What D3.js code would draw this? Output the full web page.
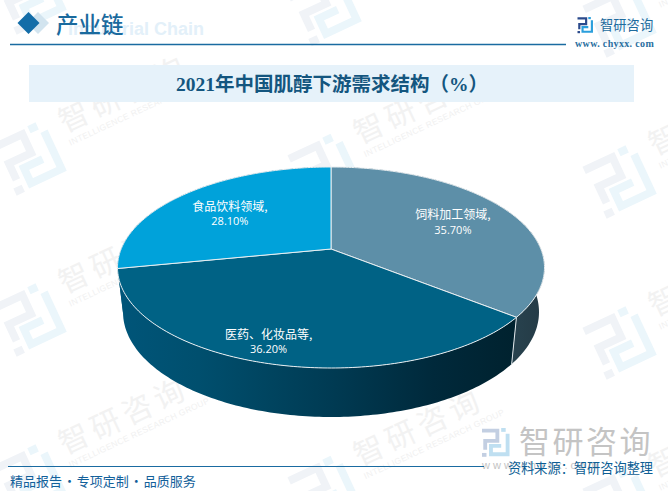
<!DOCTYPE html>
<html><head><meta charset="utf-8">
<script src="https://cdnjs.cloudflare.com/ajax/libs/d3/7.8.5/d3.min.js"></script>
<style>html,body{margin:0;padding:0;background:#fff}svg{display:block}text{font-family:"Noto Sans CJK SC","Noto Sans",sans-serif}</style>
</head><body><svg id="c" width="668" height="491"></svg>
<script>
const categories = ["饲料加工领域,", "医药、化妆品等,", "食品饮料领域,"];
const values = [35.7, 36.2, 28.1];
const valueLabels = ["35.70%", "36.20%", "28.10%"];
const topColors = ["#5d8fa8", "#006285", "#00a2da"];
const sideStops = [
  [["#28434f", 0], ["#243a45", 1]],
  [["#005579", 0], ["#004f6e", .2], ["#003a52", .55], ["#00293b", .8], ["#00222f", 1]],
  [["#005579", 0], ["#005579", 1]]
];
const labelNudges = [[0, 0], [-24, 19], [1, 3]];
const chartTitle = "2021年中国肌醇下游需求结构（%）";
const sectionTitle = "产业链";
const sectionEnglish = "Industrial Chain";
const brandName = "智研咨询";
const brandSite = "www. chyxx. com";
const brandFaint = "w w w . c h y x x . c o m";
const watermarkEnglish = "INTELLIGENCE RESEARCH GROUP";
const footerLeft = "精品报告 · 专项定制 · 品质服务";
const footerRight = "资料来源：智研咨询整理";

const svg = d3.select("#c");
const defs = svg.append("defs");
const DARK = "#1a6ba1";

// ---------- logo mark ----------
function logo(g, c1, c2, sw) {
  g.append("path").attr("d", "M0,4H24V20H5V34").attr("fill", "none").attr("stroke", c1).attr("stroke-width", sw);
  g.append("rect").attr("x", 0).attr("y", 39).attr("width", 7).attr("height", 6).attr("fill", c1);
  g.append("rect").attr("x", 30).attr("y", 0).attr("width", 7).attr("height", 6).attr("fill", c2);
  g.append("path").attr("d", "M40,9V41H14V28H30").attr("fill", "none").attr("stroke", c2).attr("stroke-width", sw);
}

// ---------- watermarks ----------
const wmRows = d3.range(4), wmCols = d3.range(3);
const wm = svg.append("g");
d3.cross(wmRows, wmCols).forEach(([r, c]) => {
  const lx = 30 + 295 * c;
  const ly = -3 + 161 * r + 11.5 * c;
  const g = wm.append("g").attr("transform", `translate(${lx},${ly}) rotate(-25)`);
  const lg = g.append("g").attr("transform", "translate(-28,-30) scale(1.3)");
  logo(lg, "#f0f3f7", "#ebf6fb", 6);
  g.append("text").attr("x", 42).attr("y", -8).attr("font-size", 30).attr("letter-spacing", 5).attr("fill", "#f2f2f2").text(brandName);
  g.append("text").attr("x", 42).attr("y", 6).attr("font-size", 8.5).attr("letter-spacing", .35).attr("fill", "#f1f1f1").style("font-family", "Liberation Sans").text(watermarkEnglish);
});

// ---------- header ----------
const diamond = (cx, cy, r) => d3.line()([[cx - r, cy], [cx, cy - r], [cx + r, cy], [cx, cy + r]]) + "Z";
svg.append("path").attr("d", diamond(38, 23, 11)).attr("fill", "#d2e4ef");
svg.append("path").attr("d", diamond(28.5, 23, 11)).attr("fill", "#136da8");
svg.append("text").attr("x", 68).attr("y", 35).attr("font-size", 18).attr("font-weight", 700).attr("fill", "#e3f0f9").style("font-family", "Liberation Sans").text(sectionEnglish);
svg.append("text").attr("x", 56).attr("y", 33).attr("font-size", 22.5).attr("font-weight", 500).attr("fill", "#1a6a9e").text(sectionTitle);
svg.append("line").attr("x1", 10).attr("x2", 566).attr("y1", 44.5).attr("y2", 44.5).attr("stroke", DARK).attr("stroke-width", 1.3);
logo(svg.append("g").attr("transform", "translate(577.5,17) scale(.36)"), "#2b4a8c", "#2b9fdc", 6);
svg.append("text").attr("x", 600).attr("y", 30).attr("font-size", 13.3).attr("fill", "#1f6c9e").text(brandName);
svg.append("text").attr("x", 575).attr("y", 47).attr("font-size", 10).attr("font-weight", 700).attr("letter-spacing", .35).attr("fill", "#2a6f9f").style("font-family", "Liberation Serif").text(brandSite);

// ---------- title band ----------
svg.append("rect").attr("x", 29).attr("y", 65).attr("width", 605).attr("height", 37).attr("fill", "#e6f2fa");
svg.append("text").attr("x", 332).attr("y", 91).attr("text-anchor", "middle").attr("font-size", 19.5).attr("font-weight", 700).attr("fill", "#14567f")
  .style("font-family", '"Liberation Serif","Noto Sans CJK SC"').text(chartTitle);

// ---------- bottom-right brand + footer ----------
logo(svg.append("g").attr("transform", "translate(482,428) scale(.64)"), "#c3cfe2", "#bfdff1", 6);
svg.append("text").attr("x", 519).attr("y", 453).attr("font-size", 31).attr("letter-spacing", 2.5).attr("fill", "#c4c4c4").text(brandName);
svg.append("text").attr("x", 482).attr("y", 469).attr("font-size", 11).attr("fill", "#c4c4c4").style("font-family", "Liberation Sans").text(brandFaint);
svg.append("line").attr("x1", 8).attr("x2", 484).attr("y1", 466.5).attr("y2", 466.5).attr("stroke", DARK).attr("stroke-width", 1.2);
svg.append("text").attr("x", 10).attr("y", 486).attr("font-size", 13).attr("word-spacing", -2).attr("fill", "#12609a").text(footerLeft);
svg.append("text").attr("x", 508).attr("y", 473).attr("font-size", 13.2).attr("fill", "#0d5e94").text(footerRight);

// ---------- pie in perspective ----------
const K = 0.184, S = Math.sqrt(1 - K * K);
const xTop = d3.scaleLinear().domain([-1, 1]).range([117.5, 544.5]);
const yTop = d3.scaleLinear().domain([-1, 1]).range([167, 368]);
const xBot = d3.scaleLinear().domain([-1, 1]).range([123, 539]);
const yBot = d3.scaleLinear().domain([-1, 1]).range([207, 417]);
function project(a, f) {
  const u = f * Math.sin(a), v = -f * Math.cos(a), w = 1 - K * v;
  return [u * S / w, (v - K) / w];
}
const onTop = (a, f = 1) => { const p = project(a, f); return [xTop(p[0]), yTop(p[1])]; };
const onBot = a => { const p = project(a, 1); return [xBot(p[0]), yBot(p[1])]; };
const line = d3.line();
const arcAngles = (d) => { const n = Math.max(2, Math.ceil((d.endAngle - d.startAngle) * 60)); return d3.range(n + 1).map(i => d.startAngle + (d.endAngle - d.startAngle) * i / n); };

const arcs = d3.pie().sort(null).value(d => d)(values);

arcs.forEach((d, i) => {
  const grad = defs.append("linearGradient").attr("id", "side" + i).attr("gradientUnits", "userSpaceOnUse")
    .attr("x1", i === 0 ? 510 : 120).attr("x2", i === 0 ? 545 : 512).attr("y1", 0).attr("y2", 0);
  sideStops[i].forEach(([col, off]) => grad.append("stop").attr("offset", off).attr("stop-color", col));
});

const pie = svg.append("g");
// Side walls
pie.selectAll("path.side").data(arcs).join("path").attr("class", "side")
  .attr("d", d => { const as = arcAngles(d); return line([...as.map(a => onTop(a)), ...as.slice().reverse().map(a => onBot(a))]) + "Z"; })
  .attr("fill", (d, i) => `url(#side${i})`);
// Seam on the front wall
const seam = arcs[0].endAngle;
pie.append("line").attr("x1", onTop(seam)[0]).attr("y1", onTop(seam)[1]).attr("x2", onBot(seam)[0]).attr("y2", onBot(seam)[1])
  .attr("stroke", "#dfe6ea").attr("stroke-width", 1);
// Top slices
pie.selectAll("path.top").data(arcs).join("path").attr("class", "top")
  .attr("d", d => line([onTop(0, 0), ...arcAngles(d).map(a => onTop(a))]) + "Z")
  .attr("fill", (d, i) => topColors[i])
  .attr("stroke", "#e8eef1").attr("stroke-width", 1).attr("stroke-linejoin", "round");

// Labels
const labels = svg.append("g").attr("text-anchor", "middle").attr("fill", "#fff").attr("font-size", 12);
arcs.forEach((d, i) => {
  const p = onTop((d.startAngle + d.endAngle) / 2, 0.68);
  const x = p[0] + labelNudges[i][0], y = p[1] + labelNudges[i][1];
  labels.append("text").attr("x", x).attr("y", y - 2.5).text(categories[i]);
  labels.append("text").attr("x", x).attr("y", y + 12).attr("font-size", 11).style("font-family", '"Open Sans"').text(valueLabels[i]);
});
</script></body></html>
